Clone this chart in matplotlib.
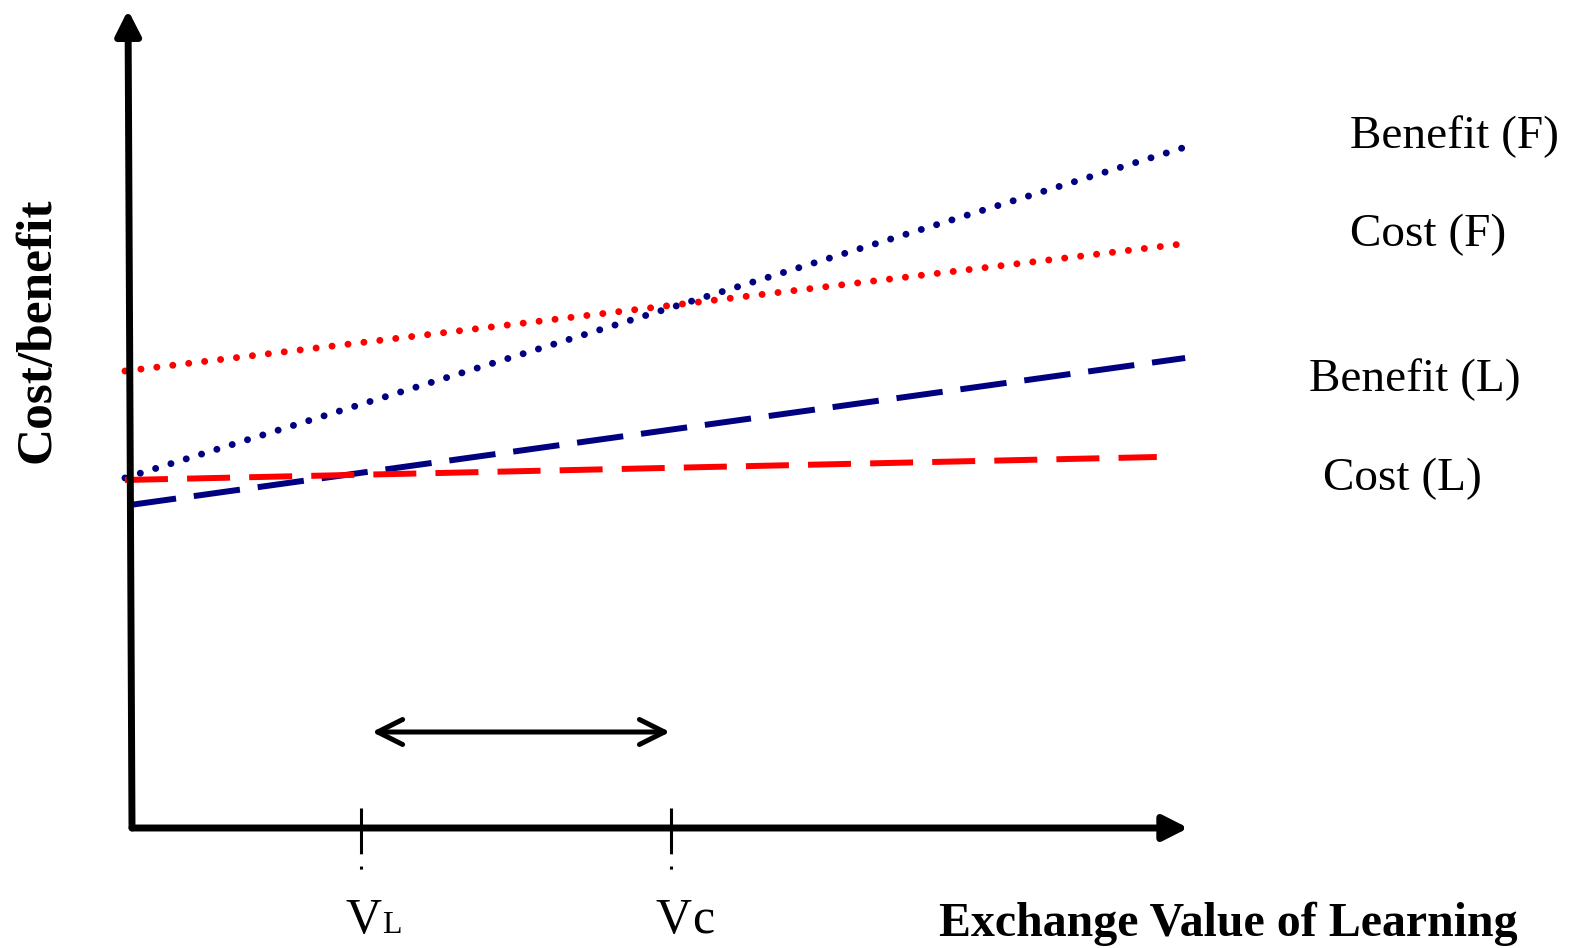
import numpy as np
import matplotlib
matplotlib.use('Agg')
import matplotlib.pyplot as plt

plt.rcParams['font.family'] = ['Liberation Serif', 'DejaVu Serif']

# schematic lines: start/end x and y (arbitrary units, origin at the axes corner)
names = ['Benefit (F)', 'Cost (F)', 'Benefit (L)', 'Cost (L)']
x_start = [-0.067, -0.067, -0.02, -0.067]
x_end = [10.095, 10.076, 10.03, 9.76]
y_start = [4.375, 5.7125, 4.0375, 4.35]
y_end = [8.5375, 7.3125, 5.875, 4.6375]
colors = ['#000080', '#ff0000', '#000080', '#ff0000']
label_xy = [(1350, 137), (1350, 235), (1309, 380), (1323, 479)]  # pixels

v_sub = ['L', 'c']
v_sub_size = [23, 36]
v_x = [2.18, 5.133]
span_x = [2.286, 5.124]
span_y = 1.2

W, H = 1573, 948
fig = plt.figure(figsize=(W / 100, H / 100), dpi=100)
ax = fig.add_axes([0, 0, 1, 1])
ax.set_xlim(-132 / 105, (W - 132) / 105)
ax.set_ylim(-120 / 80, 828 / 80)
ax.axis('off')

# axes with arrows
head = '-|>,head_length=0.75,head_width=0.38'
ax.annotate('', xy=(10.06, 0), xytext=(0, 0),
            arrowprops=dict(arrowstyle=head, mutation_scale=20,
                            lw=5, color='k', shrinkA=0, shrinkB=0))
ax.annotate('', xy=(-0.038, 10.225), xytext=(0, 0),
            arrowprops=dict(arrowstyle=head, mutation_scale=20,
                            lw=5, color='k', shrinkA=0, shrinkB=0))

# lines
for i in range(4):
    xs = [x_start[i], x_end[i]]
    ys = [y_start[i], y_end[i]]
    if 'F' in names[i]:
        ax.plot(xs, ys, color=colors[i], lw=5, linestyle=(0, (0.01, 2.3)),
                dash_capstyle='round', solid_capstyle='round')
    else:
        dash = (7.8, 3.0) if colors[i] == '#000080' else (7.2, 3.2)
        ax.plot(xs, ys, color=colors[i], lw=4.3, linestyle=(0, dash), dash_capstyle='butt')
    fig.text(label_xy[i][0] / W, 1 - label_xy[i][1] / H, names[i], fontsize=34,
             ha='left', va='center')

# V marks
for i in range(2):
    ax.plot([v_x[i], v_x[i]], [0.25, -0.55], color='k', lw=2.2,
            linestyle=(0, (15, 4, 1, 30)))
    ax.text(v_x[i] + 0.2, -1.3125, 'V', fontsize=36, ha='right', va='baseline')
    ax.text(v_x[i] + 0.2, -1.3125, v_sub[i], fontsize=v_sub_size[i], ha='left', va='baseline')

# double arrow
ax.annotate('', xy=(span_x[1], span_y), xytext=(span_x[0], span_y),
            arrowprops=dict(arrowstyle='<->,head_length=0.9,head_width=0.45', mutation_scale=20,
                            lw=3.6, color='k', shrinkA=0, shrinkB=0,
                            capstyle='round', joinstyle='round'))

# axis titles
fig.text(38 / W, 1 - 330 / H, 'Cost/benefit', fontsize=37, fontweight='bold',
         rotation=90, ha='center', va='center')
fig.text(1228 / W, 1 - 924 / H, 'Exchange Value of Learning', fontsize=34.5, fontweight='bold',
         ha='center', va='center')

fig.savefig('out.png', dpi=100)
